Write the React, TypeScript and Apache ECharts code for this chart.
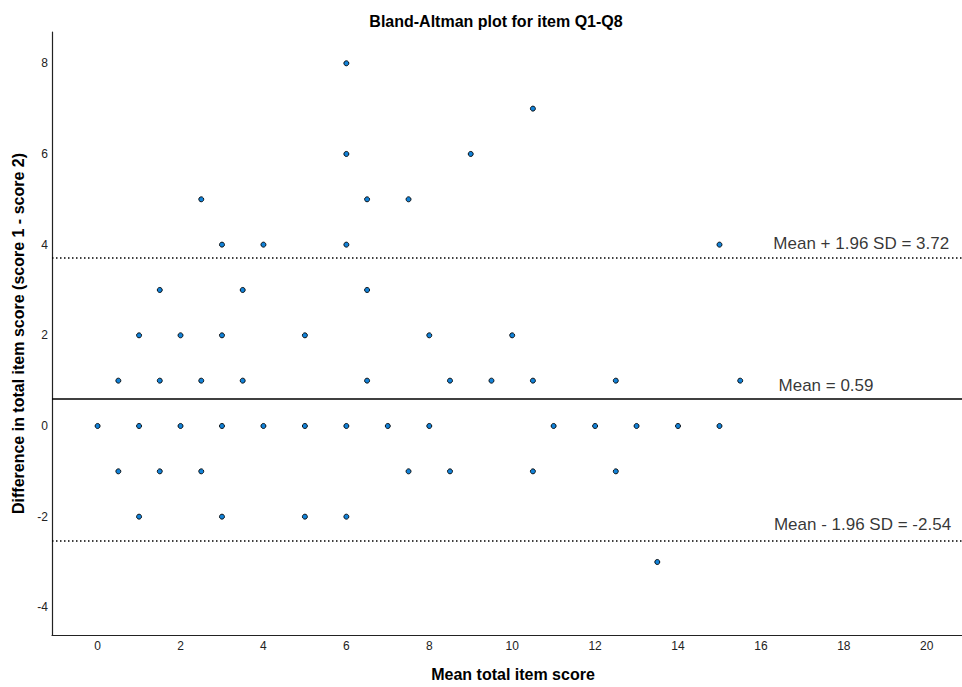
import React, { useEffect, useRef } from "react";
import * as echarts from "echarts";

const meanScores = [
  6,
  10.5,
  6, 9,
  2.5, 6.5, 7.5,
  3, 4, 6, 15,
  1.5, 3.5, 6.5,
  1, 2, 3, 5, 8, 10,
  0.5, 1.5, 2.5, 3.5, 6.5, 8.5, 9.5, 10.5, 12.5, 15.5,
  0, 1, 2, 3, 4, 5, 6, 7, 8, 11, 12, 13, 14, 15,
  0.5, 1.5, 2.5, 7.5, 8.5, 10.5, 12.5,
  1, 3, 5, 6,
  13.5,
];
const diffScores = [
  8,
  7,
  6, 6,
  5, 5, 5,
  4, 4, 4, 4,
  3, 3, 3,
  2, 2, 2, 2, 2, 2,
  1, 1, 1, 1, 1, 1, 1, 1, 1, 1,
  0, 0, 0, 0, 0, 0, 0, 0, 0, 0, 0, 0, 0, 0,
  -1, -1, -1, -1, -1, -1, -1,
  -2, -2, -2, -2,
  -3,
];
const xTicks = [0, 2, 4, 6, 8, 10, 12, 14, 16, 18, 20];
const yTicks = [-4, -2, 0, 2, 4, 6, 8];
const meanDiff = 0.59;
const upperLoA = 3.72;
const lowerLoA = -2.54;
const labelTexts = ["Mean + 1.96 SD = 3.72", "Mean = 0.59", "Mean - 1.96 SD = -2.54"];
const labelX = [18.42, 17.57, 18.45];

const FONT = "'Liberation Sans', Arial, Helvetica, sans-serif";

export default function App() {
  const ref = useRef<HTMLDivElement>(null);
  useEffect(() => {
    if (!ref.current) return;
    const chart = echarts.init(ref.current, null, { renderer: "svg" });
    const points = meanScores.map((m, i) => [m, diffScores[i]]);
    const labelY = [upperLoA, meanDiff, lowerLoA];
    const labelDist = [5, 5, 8];
    chart.setOption({
      animation: false,
      backgroundColor: "#ffffff",
      textStyle: { fontFamily: FONT },
      title: {
        text: "Bland-Altman plot for item Q1-Q8",
        left: 491,
        textAlign: "center",
        top: 8,
        textStyle: { fontFamily: FONT, fontSize: 16, fontWeight: "bold", color: "#000" },
      },
      grid: { left: 52, right: 0, top: 32, bottom: 45, containLabel: false },
      xAxis: {
        type: "value",
        min: -1.1,
        max: 20.85,
        splitLine: { show: false },
        axisTick: { show: false },
        axisLine: { show: true, onZero: false, lineStyle: { color: "#222", width: 1.2 } },
        axisLabel: {
          customValues: xTicks,
          fontFamily: FONT,
          fontSize: 12,
          color: "#222",
          margin: 5,
        },
        name: "Mean total item score",
        nameLocation: "middle",
        nameGap: 31,
        nameTextStyle: {
          fontFamily: FONT,
          fontSize: 16,
          fontWeight: "bold",
          color: "#000",
          padding: [0, 0, 0, 12],
        },
      },
      yAxis: {
        type: "value",
        min: -4.61,
        max: 8.69,
        splitLine: { show: false },
        axisTick: { show: false },
        axisLine: { show: true, onZero: false, lineStyle: { color: "#222", width: 1.2 } },
        axisLabel: {
          customValues: yTicks,
          fontFamily: FONT,
          fontSize: 12,
          color: "#222",
          margin: 4,
        },
        name: "Difference in total item score (score 1 - score 2)",
        nameLocation: "middle",
        nameGap: 22,
        nameTextStyle: { fontFamily: FONT, fontSize: 16, fontWeight: "bold", color: "#000" },
      },
      series: [
        {
          type: "scatter",
          data: points,
          symbol: "circle",
          symbolSize: 5,
          itemStyle: { color: "#1282d8", borderColor: "#000", borderWidth: 0.9, opacity: 1 },
          z: 3,
          markLine: {
            silent: true,
            symbol: "none",
            label: { show: false },
            data: [
              { yAxis: meanDiff, lineStyle: { color: "#000", width: 1.5, type: "solid" } },
              { yAxis: upperLoA, lineStyle: { color: "#000", width: 1.5, type: [1.5, 2.5] } },
              { yAxis: lowerLoA, lineStyle: { color: "#000", width: 1.5, type: [1.5, 2.5] } },
            ],
          },
        },
        {
          type: "scatter",
          silent: true,
          symbolSize: 0,
          data: labelX.map((x, i) => ({
            value: [x, labelY[i]],
            label: {
              show: true,
              position: "top",
              distance: labelDist[i],
              formatter: labelTexts[i],
              fontFamily: FONT,
              fontSize: 17,
              color: "#000",
            },
          })),
          z: 4,
        },
      ],
    });
    return () => chart.dispose();
  }, []);
  return <div ref={ref} style={{ width: 962, height: 687, position: "absolute", left: 0, top: 0 }} />;
}
